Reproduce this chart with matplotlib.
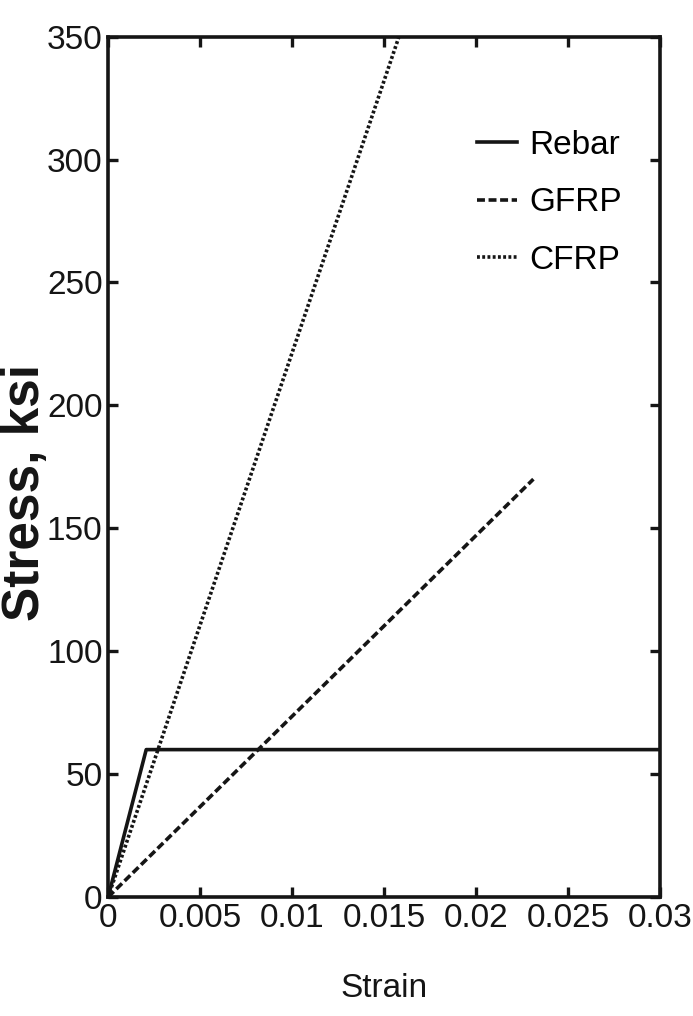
import matplotlib
matplotlib.use("Agg")
import matplotlib.pyplot as plt

plt.rcParams['font.family'] = ['Liberation Sans', 'DejaVu Sans']

# Data (strain, stress in ksi)
rebar_strain = [0.0, 0.00207, 0.03]
rebar_stress = [0.0, 60.0, 60.0]
gfrp_strain = [0.0, 0.0231]
gfrp_stress = [0.0, 170.0]
cfrp_strain = [0.0, 0.0158]
cfrp_stress = [0.0, 350.0]

xticks = [0, 0.005, 0.01, 0.015, 0.02, 0.025, 0.03]
xticklabels = ["0", "0.005", "0.01", "0.015", "0.02", "0.025", "0.03"]
yticks = [0, 50, 100, 150, 200, 250, 300, 350]
yticklabels = ["0", "50", "100", "150", "200", "250", "300", "350"]

ink = '#151515'

fig = plt.figure(figsize=(6.93, 10.16), dpi=100)
ax = fig.add_axes([0.156, 0.117, 0.797, 0.847])

lw = 2.6
ax.plot(rebar_strain, rebar_stress, color=ink, lw=lw, linestyle='-', label='Rebar')
ax.plot(gfrp_strain, gfrp_stress, color=ink, lw=lw, linestyle=(0, (2.2, 1.0)), label='GFRP')
ax.plot(cfrp_strain, cfrp_stress, color=ink, lw=lw, linestyle=(0, (0.8, 0.65)), label='CFRP')

ax.set_xlim(0, 0.03)
ax.set_ylim(0, 350)
ax.set_xticks(xticks)
ax.set_xticklabels(xticklabels)
ax.set_yticks(yticks)
ax.set_yticklabels(yticklabels)

for s in ax.spines.values():
    s.set_linewidth(2.6)
    s.set_color(ink)

ax.tick_params(axis='both', direction='in', length=7, width=2.4, top=True, right=True,
               labelsize=24, colors=ink)
ax.tick_params(axis='x', pad=4)
ax.tick_params(axis='y', pad=4)

ax.set_xlabel('Strain', fontsize=24, color=ink)
ax.xaxis.set_label_coords(0.5, -0.088)
ax.set_ylabel('Stress, ksi', fontsize=37, fontweight='bold', color=ink)
ax.yaxis.set_label_coords(-0.106, 0.47)

leg = ax.legend(loc='upper right', bbox_to_anchor=(0.966, 0.915), frameon=False,
                fontsize=24, handlelength=1.2, handletextpad=0.35, labelspacing=0.8,
                borderpad=0.1)

fig.savefig('out.png', dpi=100, facecolor='white')
